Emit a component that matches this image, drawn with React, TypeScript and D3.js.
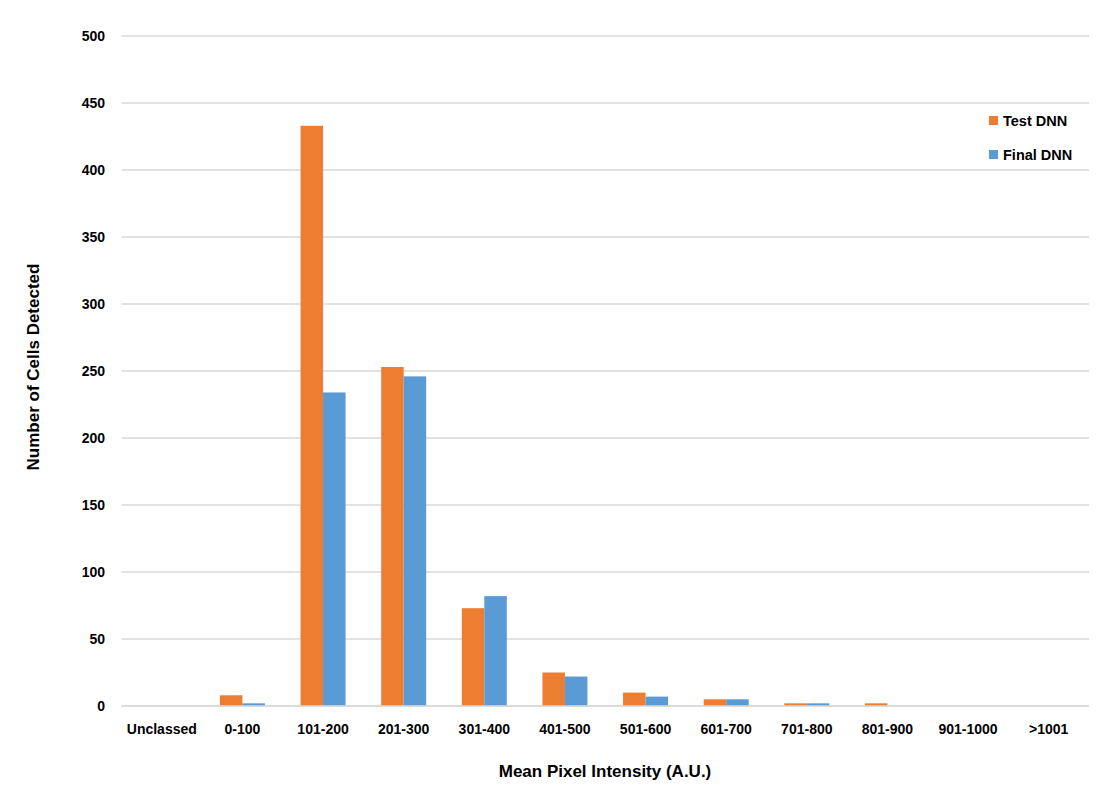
import React from "react";
import * as d3 from "d3";

const categories = ["Unclassed", "0-100", "101-200", "201-300", "301-400", "401-500", "501-600", "601-700", "701-800", "801-900", "901-1000", ">1001"];
const testDNN = [0, 8, 433, 253, 73, 25, 10, 5, 2, 2, 0, 0];
const finalDNN = [0, 2, 234, 246, 82, 22, 7, 5, 2, 0, 0, 0];
const yTicks = [0, 50, 100, 150, 200, 250, 300, 350, 400, 450, 500];
const seriesNames = ["Test DNN", "Final DNN"];
const colors = ["#ED7D31", "#5B9BD5"];

export default function App() {
  const W = 1113, H = 808;
  const left = 121.5, right = 1089, top = 36, bottom = 706;
  const x = d3.scaleBand<string>().domain(categories).range([left, right]).paddingInner(0).paddingOuter(0);
  const y = d3.scaleLinear().domain([0, 500]).range([bottom, top]);
  const bw = 22.5;
  const font = "'Liberation Sans', Arial, sans-serif";
  const series = [testDNN, finalDNN];
  return (
    <svg width={W} height={H} style={{ position: "absolute", left: 0, top: 0, background: "#fff" }} fontFamily={font}>
      {yTicks.map((t) => (
        <g key={t}>
          <line x1={left} x2={right} y1={y(t)} y2={y(t)} stroke="#D9D9D9" strokeWidth={1.3} />
          <text x={105} y={y(t)} dy="0.35em" textAnchor="end" fontSize={14} fontWeight="bold" fill="#000">{t}</text>
        </g>
      ))}
      {categories.map((c, i) => {
        const cx = (x(c) as number) + x.bandwidth() / 2;
        return (
          <g key={c}>
            {series.map((s, k) => {
              const v = s[i];
              if (v <= 0) return null;
              const bx = k === 0 ? cx - bw : cx;
              return <rect key={k} x={bx} y={y(v)} width={bw} height={y(0) - y(v)} fill={colors[k]} />;
            })}
            <text x={cx} y={734} textAnchor="middle" fontSize={14} fontWeight="bold" fill="#000">{c}</text>
          </g>
        );
      })}
      <line x1={left} x2={right} y1={y(0)} y2={y(0)} stroke="#D9D9D9" strokeWidth={1.3} />
      <text x={605} y={777} textAnchor="middle" fontSize={17} fontWeight="bold" fill="#000">Mean Pixel Intensity (A.U.)</text>
      <text transform={`translate(39,${367}) rotate(-90)`} textAnchor="middle" fontSize={17} fontWeight="bold" fill="#000">Number of Cells Detected</text>
      {seriesNames.map((n, k) => (
        <g key={n} transform={`translate(989,${116 + k * 34})`}>
          <rect x={0} y={0} width={9} height={9} fill={colors[k]} />
          <text x={14} y={10} fontSize={14.5} fontWeight="bold" fill="#000">{n}</text>
        </g>
      ))}
    </svg>
  );
}
